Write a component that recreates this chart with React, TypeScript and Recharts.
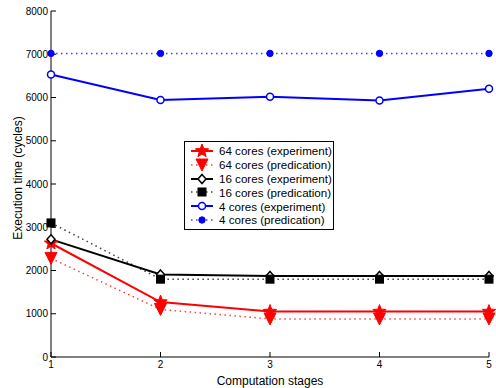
import React from 'react';
import { LineChart, Line, XAxis, YAxis, Legend } from 'recharts';

const stages = [1, 2, 3, 4, 5];
const exp64 = [2630, 1270, 1050, 1050, 1050];
const pred64 = [2280, 1100, 880, 880, 880];
const exp16 = [2720, 1910, 1875, 1875, 1875];
const pred16 = [3100, 1800, 1800, 1800, 1800];
const exp4 = [6530, 5940, 6020, 5930, 6200];
const pred4 = [7020, 7020, 7020, 7020, 7020];
const yTicks = [0, 1000, 2000, 3000, 4000, 5000, 6000, 7000, 8000];

const data = stages.map((s, i) => ({
  stage: s,
  exp64: exp64[i],
  pred64: pred64[i],
  exp16: exp16[i],
  pred16: pred16[i],
  exp4: exp4[i],
  pred4: pred4[i],
}));

type MarkerKind = 'star' | 'tri' | 'diamond' | 'square' | 'circle' | 'dot';

function Marker({ kind, cx, cy, color }: { kind: MarkerKind; cx: number; cy: number; color: string }) {
  switch (kind) {
    case 'star': {
      const pts: string[] = [];
      for (let k = 0; k < 10; k++) {
        const r = k % 2 === 0 ? 7 : 3;
        const a = -Math.PI / 2 + (k * Math.PI) / 5;
        pts.push(`${cx + r * Math.cos(a)},${cy + r * Math.sin(a)}`);
      }
      return <polygon points={pts.join(' ')} fill={color} stroke={color} strokeWidth={1} />;
    }
    case 'tri':
      return <polygon points={`${cx - 6},${cy - 6} ${cx + 6},${cy - 6} ${cx},${cy + 6}`} fill={color} stroke={color} strokeWidth={1} />;
    case 'diamond':
      return <polygon points={`${cx},${cy - 4.5} ${cx + 4},${cy} ${cx},${cy + 4.5} ${cx - 4},${cy}`} fill="#fff" stroke={color} strokeWidth={1.5} />;
    case 'square':
      return <rect x={cx - 4} y={cy - 4} width={8} height={8} fill={color} stroke={color} />;
    case 'circle':
      return <circle cx={cx} cy={cy} r={3.5} fill="#fff" stroke={color} strokeWidth={1.5} />;
    case 'dot':
    default:
      return <circle cx={cx} cy={cy} r={3.2} fill={color} stroke={color} />;
  }
}

const series: { key: string; name: string; color: string; dashed: boolean; marker: MarkerKind }[] = [
  { key: 'exp64', name: '64 cores (experiment)', color: '#ff0000', dashed: false, marker: 'star' },
  { key: 'pred64', name: '64 cores (predication)', color: '#ff0000', dashed: true, marker: 'tri' },
  { key: 'exp16', name: '16 cores (experiment)', color: '#000000', dashed: false, marker: 'diamond' },
  { key: 'pred16', name: '16 cores (predication)', color: '#000000', dashed: true, marker: 'square' },
  { key: 'exp4', name: '4 cores (experiment)', color: '#0000ff', dashed: false, marker: 'circle' },
  { key: 'pred4', name: '4 cores (predication)', color: '#0000ff', dashed: true, marker: 'dot' },
];

const DASH = '1.5 3.5';
const FONT = 'Arial, "Liberation Sans", sans-serif';

function LegendBox() {
  return (
    <div
      style={{
        border: '1px solid #000',
        background: '#fff',
        padding: '2px 0 2px 2px',
        fontFamily: FONT,
        fontSize: 11.6,
        color: '#000',
        width: 150,
        boxSizing: 'border-box',
      }}
    >
      {series.map((s) => (
        <div key={s.key} style={{ display: 'flex', alignItems: 'center', height: 13.8 }}>
          <svg width={30} height={14} style={{ flex: 'none' }}>
            <line
              x1={4}
              x2={26}
              y1={7}
              y2={7}
              stroke={s.color}
              strokeWidth={s.dashed ? 1.5 : 2}
              strokeDasharray={s.dashed ? DASH : undefined}
              strokeOpacity={s.dashed ? 0.75 : 1}
            />
            <Marker kind={s.marker} cx={15} cy={7} color={s.color} />
          </svg>
          <span style={{ marginLeft: 2, whiteSpace: 'nowrap', lineHeight: '13px' }}>{s.name}</span>
        </div>
      ))}
    </div>
  );
}

const tickStyle = { fontSize: 10, fill: '#000', fontFamily: FONT };

export default function App() {
  return (
    <div style={{ position: 'absolute', left: 0, top: 0, background: '#fff' }}>
      <LineChart width={496} height={388} data={data} margin={{ top: 11, right: 7, left: 0, bottom: 0 }}>
        <XAxis
          dataKey="stage"
          type="number"
          domain={[1, 5]}
          ticks={stages}
          height={31}
          tickSize={-5}
          tickMargin={9}
          stroke="#000"
          tick={tickStyle}
          label={{
            value: 'Computation stages',
            position: 'insideBottom',
            offset: 3,
            style: { fontSize: 12, fill: '#000', fontFamily: FONT },
          }}
        />
        <XAxis
          xAxisId="top"
          orientation="top"
          dataKey="stage"
          type="number"
          domain={[1, 5]}
          ticks={stages}
          height={0}
          tickSize={-5}
          stroke="#000"
          tickFormatter={() => ''}
        />
        <YAxis
          domain={[0, 8000]}
          ticks={yTicks}
          width={51}
          tickSize={-5}
          tickMargin={8}
          stroke="#000"
          tick={tickStyle}
          label={{
            value: 'Execution time (cycles)',
            angle: -90,
            position: 'insideLeft',
            offset: 18,
            dy: -6,
            style: { textAnchor: 'middle', fontSize: 12, fill: '#000', fontFamily: FONT },
          }}
        />
        <YAxis
          yAxisId="right"
          orientation="right"
          domain={[0, 8000]}
          ticks={yTicks}
          width={0}
          tickSize={-5}
          stroke="#000"
          tickFormatter={() => ''}
        />
        {series.map((s) => (
          <Line
            key={s.key}
            dataKey={s.key}
            name={s.name}
            stroke={s.color}
            strokeWidth={s.dashed ? 1.5 : 2}
            strokeDasharray={s.dashed ? DASH : undefined}
            strokeOpacity={s.dashed ? 0.75 : 1}
            isAnimationActive={false}
            dot={(p: any) => <Marker key={`${s.key}-${p.index}`} kind={s.marker} cx={p.cx} cy={p.cy} color={s.color} />}
            activeDot={false}
          />
        ))}
        <Legend
          layout="vertical"
          align="center"
          verticalAlign="middle"
          content={() => <LegendBox />}
          wrapperStyle={{ left: 184, top: 141, width: 150 }}
        />
      </LineChart>
    </div>
  );
}
